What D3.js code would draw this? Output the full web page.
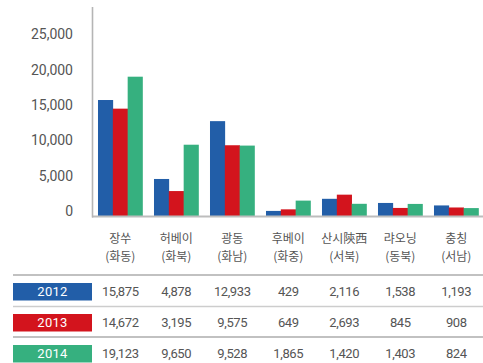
<!DOCTYPE html>
<html>
<head>
<meta charset="utf-8">
<script src="https://cdn.jsdelivr.net/npm/d3@7"></script>
<style>
  html, body { margin: 0; padding: 0; background: #fff; }
  svg { display: block; }
  .num { font-family: Roboto, "Noto Sans", sans-serif; }
  .kr { font-family: "Noto Sans CJK KR", "Noto Sans", sans-serif; }
</style>
</head>
<body>
<svg id="chart" width="483" height="363"></svg>
<script>
// Provinces (top line) and their macro-regions (second line)
const categories = ["장쑤", "허베이", "광동", "후베이", "산시陝西", "랴오닝", "충칭"];
const regions = ["(화동)", "(화북)", "(화남)", "(화중)", "(서북)", "(동북)", "(서남)"];
const years = ["2012", "2013", "2014"];
const values2012 = [15875, 4878, 12933, 429, 2116, 1538, 1193];
const values2013 = [14672, 3195, 9575, 649, 2693, 845, 908];
const values2014 = [19123, 9650, 9528, 1865, 1420, 1403, 824];
const yTicks = [0, 5000, 10000, 15000, 20000, 25000];
const colors = ["#225ea8", "#d3141d", "#36b07f"];

const series = [values2012, values2013, values2014];
const fmt = d3.format(",");

const svg = d3.select("#chart");

const x = d3.scaleBand()
  .domain(categories)
  .range([92, 484.5])
  .paddingInner(0.205)
  .paddingOuter(0.107);

const xSub = d3.scaleBand()
  .domain(years)
  .range([0, x.bandwidth()]);

const y = d3.scaleLinear()
  .domain([0, 25000])
  .range([214, 34.5]);

// Bars
const groups = svg.append("g")
  .selectAll("g")
  .data(categories)
  .join("g")
  .attr("transform", d => `translate(${x(d)},0)`);

groups.selectAll("rect")
  .data((d, i) => years.map((yr, k) => ({ yr, k, v: series[k][i] })))
  .join("rect")
  .attr("x", d => xSub(d.yr))
  .attr("width", xSub.bandwidth() + 0.3)
  .attr("y", d => y(d.v))
  .attr("height", d => y(0) - y(d.v) + 2)
  .attr("fill", d => colors[d.k]);

// Baseline and vertical axis line
svg.append("line")
  .attr("x1", 92).attr("x2", 483)
  .attr("y1", y(0) + 2.5).attr("y2", y(0) + 2.5)
  .attr("stroke", "#bdbdbd").attr("stroke-width", 2);

svg.append("line")
  .attr("x1", 92.5).attr("x2", 92.5)
  .attr("y1", 7).attr("y2", y(0) + 3.5)
  .attr("stroke", "#b5b5b5").attr("stroke-width", 1.6);

// Y axis labels
const yAxis = svg.append("g")
  .attr("transform", "translate(73,0)")
  .call(d3.axisLeft(y).tickValues(yTicks).tickSize(0).tickPadding(0).tickFormat(fmt));
yAxis.select(".domain").remove();
yAxis.selectAll("text")
  .attr("class", "num")
  .attr("font-size", 14)
  .attr("fill", "#555")
  .attr("dy", "0.32em")
  .attr("transform", d => `translate(0,${-3 + d / 25000 * 3})`);

// Category labels
const catG = svg.append("g").attr("class", "kr");
catG.selectAll("text.cat")
  .data(categories)
  .join("text")
  .attr("class", "cat")
  .attr("x", d => x(d) + x.bandwidth() / 2)
  .attr("y", 242.5)
  .attr("text-anchor", "middle")
  .attr("font-size", 12)
  .attr("fill", "#555")
  .text(d => d);
catG.selectAll("text.reg")
  .data(regions)
  .join("text")
  .attr("class", "reg")
  .attr("x", (d, i) => x(categories[i]) + x.bandwidth() / 2)
  .attr("y", 260.5)
  .attr("text-anchor", "middle")
  .attr("font-size", 12)
  .attr("fill", "#555")
  .text(d => d);

// Data table
const rowLines = [275, 306.5, 337];
const lineColors = ["#adadad", "#cdcdcd", "#adadad"];
svg.append("g")
  .selectAll("line")
  .data(rowLines)
  .join("line")
  .attr("x1", 13).attr("x2", 483)
  .attr("y1", d => d).attr("y2", d => d)
  .attr("stroke", (d, i) => lineColors[i])
  .attr("stroke-width", 1.3);

const rowTop = [283, 314, 345];
const rows = svg.append("g")
  .selectAll("g")
  .data(years)
  .join("g")
  .attr("transform", (d, i) => `translate(0,${rowTop[i]})`);

rows.append("rect")
  .attr("x", 13).attr("y", 0)
  .attr("width", 79).attr("height", 17.5)
  .attr("fill", (d, i) => colors[i]);

rows.append("text")
  .attr("class", "num")
  .attr("x", 52.5).attr("y", 13.3)
  .attr("text-anchor", "middle")
  .attr("font-size", 13)
  .attr("letter-spacing", 0.3)
  .attr("fill", "#fff")
  .text(d => d);

rows.each(function (yr, k) {
  d3.select(this).selectAll("text.val")
    .data(series[k])
    .join("text")
    .attr("class", "val num")
    .attr("x", (d, i) => x(categories[i]) + x.bandwidth() / 2)
    .attr("y", 13.3)
    .attr("text-anchor", "middle")
    .attr("font-size", 13)
    .attr("letter-spacing", -0.4)
    .attr("fill", "#555")
    .text(d => fmt(d));
});
</script>
</body>
</html>
